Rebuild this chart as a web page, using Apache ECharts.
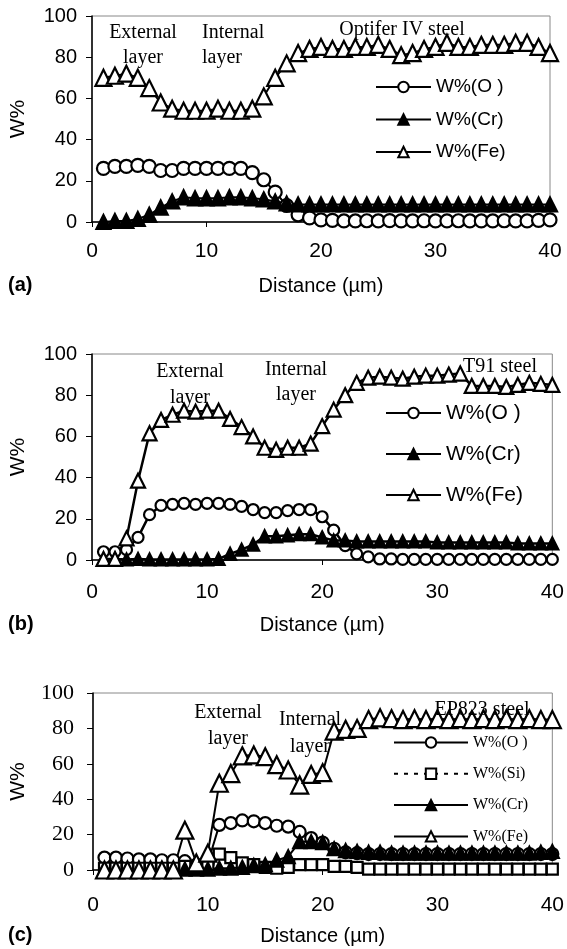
<!DOCTYPE html>
<html>
<head>
<meta charset="utf-8">
<style>
  html, body { margin: 0; padding: 0; background: #fff; }
  #chart { width: 567px; height: 949px; }
</style>
<script src="https://cdn.jsdelivr.net/npm/echarts/dist/echarts.min.js"></script>
</head>
<body>
<div id="chart"></div>
<script>
// distance in µm, same for all three profiles
var distance = [1,2,3,4,5,6,7,8,9,10,11,12,13,14,15,16,17,18,19,20,
                21,22,23,24,25,26,27,28,29,30,31,32,33,34,35,36,37,38,39,40];

// (a) Optifer IV steel
var optO  = [26,27,27,27.5,27,25,25,26,26,26,26,26,26,24,20.5,14.5,8,3.5,2,1,
             0.8,0.5,0.5,0.6,0.5,0.7,0.5,0.5,0.6,0.5,0.5,0.6,0.5,0.5,0.5,0.6,0.5,0.5,0.8,1];
var optCr = [0,0.5,0.5,1.5,3.5,7,10,12,11.5,11.5,11.5,12,12,11.5,11,10,9,8.5,8.5,8.5,
             8.5,8.5,8.5,8.5,8.5,8.5,8.5,8.5,8.5,8.5,8.5,8.5,8.5,8.5,8.5,8.5,8.5,8.5,8.5,8.5];
var optFe = [70,71,72,70,65,58,55,54,54,54,55,54,54,55,61,70,77,82,84,85,
             84,84,85,85,86,84,81,82,84,85,87,85,85,86,86,86,87,87,85,82];

// (b) T91 steel
var t91O  = [4,4,5,11,22,26.5,27,27.5,27,27.5,27.5,27,26,24.5,23,23,24,24.5,24.5,21,
             14.5,7,3,1.5,0.5,0.5,0.3,0.3,0.3,0.3,0.3,0.3,0.3,0.3,0.3,0.3,0.3,0.3,0.3,0.3];
var t91Cr = [0,0.5,0.3,0.5,0.3,0.3,0.3,0.3,0.3,0.3,0.5,3,5,7.5,11.5,11.5,12,12.5,12.5,11,
             9.5,9.5,9,9,9,9,9,9,9,8.5,8.5,8.5,8.5,8.5,8.5,8.5,8,8,8,8];
var t91Fe = [0.5,0.5,10.5,38.5,61.5,68,70.5,72.5,72,72.5,72.5,68.5,64.5,60,54.5,53.5,54.5,54.5,56.5,65,
             73,80,86,88.5,89,88.5,88,89,89.5,89.5,90,90.5,84.5,84.5,84.5,84,85,86,85.5,85];

// (c) EP823 steel
var epO  = [7,7,6.5,6,6,5.5,5.5,5,3,4,25.5,26.5,28,27.5,26.5,25,24.5,21.5,18,15.5,
            12,10,9.5,9,9,9,9,9,9,9,9,9,9,9,9,9,9,9,9,9];
var epSi = [1,1,1,1,1,1,1,2,1.5,3,9,7,4,3,1.5,1,1.5,3,3,3,
            2,2,1.5,0.5,0.5,0.5,0.5,0.5,0.5,0.5,0.5,0.5,0.5,0.5,0.5,0.5,0.5,0.5,0.5,0.5];
var epCr = [0.5,0.5,0.5,0.5,0.5,0.5,0.5,0.5,0.5,0.5,1,1,1.5,2.5,3,5.5,7.5,16,16,15.5,
            12,11,10.5,10,10,9.5,9.5,9.5,9.5,9.5,9.5,9.5,9.5,9.5,9.5,9.5,9.5,9.5,10,10.5];
var epFe = [0,0,0,0,0,0,0,22.5,4,9.5,49,54.5,64.5,65,64,59.5,56.5,48,54,55,
            78.5,79.5,80,85,86,85.5,85,85.5,85,85.5,85,85.5,85,85.5,85,85.5,85,85.5,85,85];

var legendText = {
  aO: 'W%(O )', aCr: 'W%(Cr)', aFe: 'W%(Fe)',
  bO: 'W%(O )', bCr: 'W%(Cr)', bFe: 'W%(Fe)',
  cO: 'W%(O )', cSi: 'W%(Si)', cCr: 'W%(Cr)', cFe: 'W%(Fe)'
};

var SANS = 'Liberation Sans';
var SERIF = 'Liberation Serif';

function pairs(vals) {
  return distance.map(function (d, i) { return [d, vals[i]]; });
}

// kind: 'circle' | 'square' open, 'tri' filled, 'otri' open triangle
function line(name, idx, vals, kind, size, width, dashed) {
  var sym = kind === 'tri' || kind === 'otri' ? 'triangle' : kind;
  var filled = kind === 'tri';
  return {
    name: name,
    type: 'line',
    xAxisIndex: idx,
    yAxisIndex: idx,
    data: pairs(vals),
    symbol: sym,
    symbolSize: size,
    showAllSymbol: true,
    lineStyle: { color: '#000', width: width, type: dashed ? [4, 6] : 'solid' },
    itemStyle: { color: filled ? '#000' : '#fff', borderColor: '#000', borderWidth: 2.2 },
    emphasis: { disabled: true },
    z: 3
  };
}

function xAx(idx, fs, margin, gap) {
  return {
    gridIndex: idx, type: 'value', min: 0, max: 40, interval: 10,
    axisLine: { lineStyle: { color: '#000', width: 1.5 } },
    axisTick: { show: true, length: 5, lineStyle: { color: '#000' } },
    splitLine: { show: false },
    axisLabel: { fontFamily: SANS, fontSize: fs, color: '#000', margin: margin },
    name: 'Distance (µm)', nameLocation: 'middle', nameGap: gap,
    nameTextStyle: { fontFamily: SANS, fontSize: 20, color: '#000' }
  };
}

function yAx(idx, font, fs, margin, gap, nameFs) {
  return {
    gridIndex: idx, type: 'value', min: 0, max: 100, interval: 20,
    axisLine: { show: true, lineStyle: { color: '#000', width: 1.5 } },
    axisTick: { show: true, length: 6, lineStyle: { color: '#000' } },
    splitLine: { show: false },
    axisLabel: { fontFamily: font, fontSize: fs, color: '#000', margin: margin },
    name: 'W%', nameLocation: 'middle', nameGap: gap, nameRotate: 90,
    nameTextStyle: { fontFamily: SANS, fontSize: nameFs, color: '#000' }
  };
}

function legend(names, left, top, w, fs, lh, gap, font) {
  return {
    data: names, orient: 'vertical', left: left, top: top, padding: 0,
    itemWidth: w, itemHeight: 13, itemGap: gap, selectedMode: false,
    formatter: function (n) { return legendText[n]; },
    textStyle: { fontFamily: font, fontSize: fs, lineHeight: lh, color: '#000' }
  };
}

function txt(x, y, s, fs, font, align, weight) {
  return {
    type: 'text', z: 10,
    style: { x: x, y: y, text: s, fill: '#000', align: align || 'center',
             verticalAlign: 'middle',
             font: (weight || 'normal') + ' ' + fs + 'px "' + (font || SERIF) + '"' }
  };
}

var chart = echarts.init(document.getElementById('chart'));

var option = {
  animation: false,
  backgroundColor: '#fff',
  grid: [
    { left: 91, top: 16, width: 459, height: 206, show: true, borderColor: '#888', borderWidth: 1 },
    { left: 91, top: 354, width: 465, height: 206, show: true, borderColor: '#888', borderWidth: 1 },
    { left: 92, top: 693, width: 463, height: 177, show: true, borderColor: '#888', borderWidth: 1 }
  ],
  xAxis: [ xAx(0, 21, 19, 54), xAx(1, 21, 22, 55), xAx(2, 21, 25, 56) ],
  yAxis: [ yAx(0, SANS, 20, 15, 63, 21), yAx(1, SANS, 20, 15, 63, 21), yAx(2, SERIF, 22, 19, 64, 21) ],
  legend: [
    legend(['aO', 'aCr', 'aFe'], 375, 77, 55, 19, 20, 12.5, SANS),
    legend(['bO', 'bCr', 'bFe'], 385, 402, 55, 21, 22, 19, SANS),
    legend(['cO', 'cSi', 'cCr', 'cFe'], 393, 734, 74, 16, 17, 14.3, SERIF)
  ],
  series: [
    line('aO', 0, optO, 'circle', 13, 2),
    line('aCr', 0, optCr, 'tri', 14, 2),
    line('aFe', 0, optFe, 'otri', 16, 2),
    line('bO', 1, t91O, 'circle', 11, 2.5),
    line('bCr', 1, t91Cr, 'tri', 12, 2.5),
    line('bFe', 1, t91Fe, 'otri', 14, 2.5),
    line('cO', 2, epO, 'circle', 12, 2),
    line('cSi', 2, epSi, 'square', 11, 2, true),
    line('cCr', 2, epCr, 'tri', 13, 2),
    line('cFe', 2, epFe, 'otri', 17, 2)
  ],
  graphic: [
    // panel (a)
    txt(143, 33, 'External', 20), txt(143, 58, 'layer', 20),
    txt(202, 33, 'Internal', 20, SERIF, 'left'), txt(202, 58, 'layer', 20, SERIF, 'left'),
    txt(402, 30, 'Optifer IV steel', 20),
    txt(8, 285, '(a)', 20, SANS, 'left', 'bold'),
    // panel (b)
    txt(190, 372, 'External', 20), txt(190, 398, 'layer', 20),
    txt(296, 370, 'Internal', 20), txt(296, 395, 'layer', 20),
    txt(500, 367, 'T91 steel', 20),
    txt(8, 624, '(b)', 20, SANS, 'left', 'bold'),
    // panel (c)
    txt(228, 713, 'External', 20), txt(228, 739, 'layer', 20),
    txt(310, 720, 'Internal', 20), txt(310, 747, 'layer', 20),
    txt(482, 710, 'EP823 steel', 20),
    txt(8, 935, '(c)', 20, SANS, 'left', 'bold')
  ]
};

chart.setOption(option);
</script>
</body>
</html>
